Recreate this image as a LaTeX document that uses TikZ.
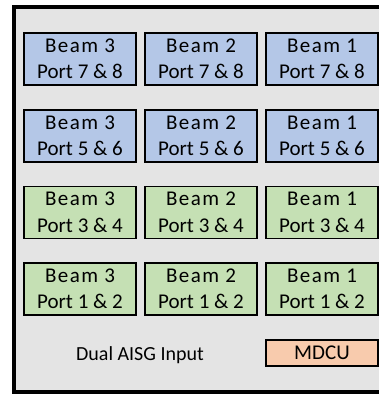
\documentclass[tikz,border=0pt]{standalone}
\usepackage{fontspec}
\setmainfont{Carlito}
\newfontfamily\beamfont[LetterSpace=7]{Carlito}
\definecolor{panelgray}{HTML}{E4E4E4}
\definecolor{portblue}{HTML}{B4C7E7}
\definecolor{portgreen}{HTML}{C5E0B4}
\definecolor{mdcuorange}{HTML}{F8CBAD}

\begin{document}
\begin{tikzpicture}[x=1pt,y=-1pt,
    portbox/.style={draw=black,line width=1.3pt,minimum width=112pt,minimum height=52pt,
      inner sep=0pt,align=center,font=\fontsize{21}{26.5}\selectfont},
    upper/.style={portbox,fill=portblue},
    lower/.style={portbox,fill=portgreen}]

      \useasboundingbox (0,0) rectangle (379,394);
      \fill[panelgray] (14,7) rectangle (381,392);
      \draw[black,line width=4pt] (381,7) -- (14,7) -- (14,392) -- (381,392);

      \node[upper] (b3p78) at (80,59) {{\beamfont Beam 3}\\Port 7 \& 8};
      \node[upper] (b2p78) at (201,59) {{\beamfont Beam 2}\\Port 7 \& 8};
      \node[upper] (b1p78) at (322,59) {{\beamfont Beam 1}\\Port 7 \& 8};

      \node[upper] (b3p56) at (80,136) {{\beamfont Beam 3}\\Port 5 \& 6};
      \node[upper] (b2p56) at (201,136) {{\beamfont Beam 2}\\Port 5 \& 6};
      \node[upper] (b1p56) at (322,136) {{\beamfont Beam 1}\\Port 5 \& 6};

      \node[lower] (b3p34) at (80,212.5) {{\beamfont Beam 3}\\Port 3 \& 4};
      \node[lower] (b2p34) at (201,212.5) {{\beamfont Beam 2}\\Port 3 \& 4};
      \node[lower] (b1p34) at (322,212.5) {{\beamfont Beam 1}\\Port 3 \& 4};

      \node[lower] (b3p12) at (80,289) {{\beamfont Beam 3}\\Port 1 \& 2};
      \node[lower] (b2p12) at (201,289) {{\beamfont Beam 2}\\Port 1 \& 2};
      \node[lower] (b1p12) at (322,289) {{\beamfont Beam 1}\\Port 1 \& 2};

      \node[font=\fontsize{20}{26}\selectfont] (aisg) at (140,355) {Dual AISG Input};
      \node[portbox,fill=mdcuorange,minimum height=26pt] (mdcu) at (322,353) {MDCU};

    \end{tikzpicture}
\end{document}
